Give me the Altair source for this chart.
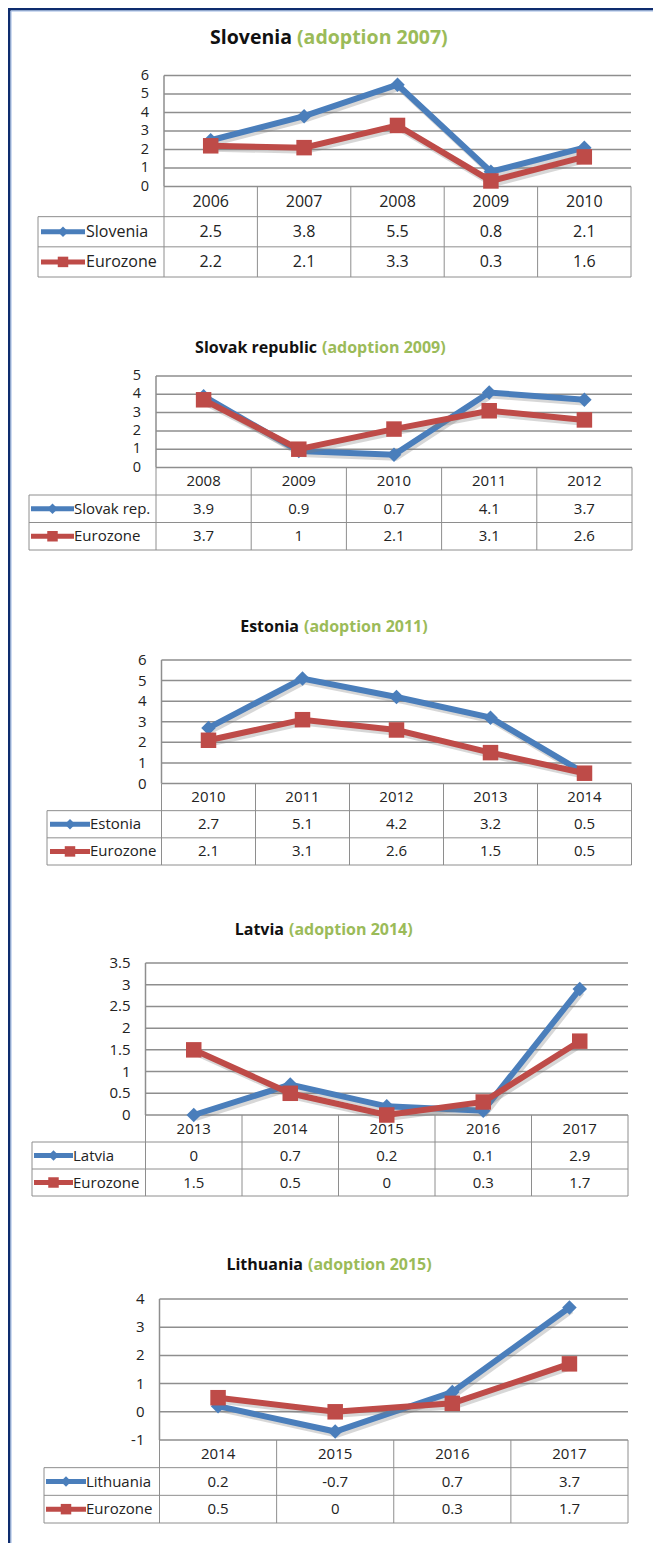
import altair as alt
import pandas as pd

# ---------------- data ----------------
slovenia_years = ["2006", "2007", "2008", "2009", "2010"]
slovenia_country = [2.5, 3.8, 5.5, 0.8, 2.1]
slovenia_euro = [2.2, 2.1, 3.3, 0.3, 1.6]
slovenia_ticks = [0, 1, 2, 3, 4, 5, 6]

slovak_years = ["2008", "2009", "2010", "2011", "2012"]
slovak_country = [3.9, 0.9, 0.7, 4.1, 3.7]
slovak_euro = [3.7, 1, 2.1, 3.1, 2.6]
slovak_ticks = [0, 1, 2, 3, 4, 5]

estonia_years = ["2010", "2011", "2012", "2013", "2014"]
estonia_country = [2.7, 5.1, 4.2, 3.2, 0.5]
estonia_euro = [2.1, 3.1, 2.6, 1.5, 0.5]
estonia_ticks = [0, 1, 2, 3, 4, 5, 6]

latvia_years = ["2013", "2014", "2015", "2016", "2017"]
latvia_country = [0, 0.7, 0.2, 0.1, 2.9]
latvia_euro = [1.5, 0.5, 0, 0.3, 1.7]
latvia_ticks = [0, 0.5, 1, 1.5, 2, 2.5, 3, 3.5]

lithuania_years = ["2014", "2015", "2016", "2017"]
lithuania_country = [0.2, -0.7, 0.7, 3.7]
lithuania_euro = [0.5, 0, 0.3, 1.7]
lithuania_ticks = [-1, 0, 1, 2, 3, 4]

titles = ["Slovenia", "Slovak republic", "Estonia", "Latvia", "Lithuania"]
adoptions = ["(adoption 2007)", "(adoption 2009)", "(adoption 2011)",
             "(adoption 2014)", "(adoption 2015)"]
row_labels = ["Slovenia", "Slovak rep.", "Estonia", "Latvia", "Lithuania"]
euro_label = "Eurozone"

# ---------------- style / layout ----------------
W = 645
H = 1535
FONT = "Open Sans"
BLUE = "#4A7EBB"
RED = "#BE4B48"
GREEN = "#9BBB59"
GRID = "#8E8E8E"
TXT = "#222222"
NAVY = "#0E2C6E"

layouts = [
    dict(off=0, ty=30, anchor=284, tsize=19.5, left=156, right=623, top=67.5, ybot=178.5,
         rbot=269, tleft=30, lx0=33, lx1=77, tx=78, fs=16, tfs=14.5),
    dict(off=310, ty=30, anchor=309, tsize=16, left=148, right=624, top=58, ybot=149.5,
         rbot=232, tleft=21, lx0=23, lx1=66, tx=66, fs=15, tfs=14.5),
    dict(off=592, ty=27, anchor=291, tsize=16, left=153.5, right=623.5, top=60, ybot=183.5,
         rbot=265, tleft=39, lx0=42, lx1=82, tx=82, fs=15, tfs=15),
    dict(off=892, ty=30, anchor=276, tsize=16, left=137.5, right=620, top=63, ybot=215,
         rbot=296, tleft=24, lx0=26, lx1=65, tx=65, fs=15, tfs=15),
    dict(off=1222, ty=35, anchor=295, tsize=16, left=151.5, right=620, top=69, ybot=210,
         rbot=293, tleft=36, lx0=38, lx1=78, tx=78, fs=15, tfs=15),
]


def fmt(v):
    return f"{v:g}"


def one(**kw):
    return pd.DataFrame({k: [v] for k, v in kw.items()})


layers = []

# page frame
fr = one(a=0)
layers.append(alt.Chart(fr).mark_rule(color=NAVY, strokeWidth=3).encode(
    x=alt.value(1), y=alt.value(0), y2=alt.value(H)))
layers.append(alt.Chart(fr).mark_rule(color=NAVY, strokeWidth=3).encode(
    x=alt.value(0), x2=alt.value(W), y=alt.value(1)))
layers.append(alt.Chart(fr).mark_rule(color="#9DB8E3", strokeWidth=1).encode(
    x=alt.value(3), y=alt.value(3), y2=alt.value(H)))
layers.append(alt.Chart(fr).mark_rule(color="#9DB8E3", strokeWidth=1).encode(
    x=alt.value(3), x2=alt.value(W), y=alt.value(3)))


def panel(idx, years, country, euro, ticks):
    L = layouts[idx]
    o = L["off"]
    n = len(years)
    xs = alt.Scale(domain=[0, n], range=[L["left"], L["right"]])
    ys = alt.Scale(domain=[min(ticks), max(ticks)], range=[o + L["ybot"], o + L["top"]])
    rs = alt.Scale(domain=[0, 3], range=[o + L["ybot"], o + L["rbot"]])
    out = []

    # title
    out.append(alt.Chart(one(t=titles[idx])).mark_text(
        font=FONT, fontSize=L["tsize"], fontWeight="bold", color="#111111",
        align="right", baseline="middle").encode(
        text="t:N", x=alt.value(L["anchor"]), y=alt.value(o + L["ty"])))
    out.append(alt.Chart(one(t=adoptions[idx])).mark_text(
        font=FONT, fontSize=L["tsize"], fontWeight="bold", color=GREEN,
        align="left", baseline="middle").encode(
        text="t:N", x=alt.value(L["anchor"] + 5), y=alt.value(o + L["ty"])))

    # gridlines + tick labels
    tdf = pd.DataFrame({"t": ticks, "lab": [fmt(t) for t in ticks]})
    out.append(alt.Chart(tdf).mark_rule(color=GRID, strokeWidth=1.5).encode(
        y=alt.Y("t:Q", scale=ys, axis=None),
        x=alt.value(L["left"]), x2=alt.value(L["right"])))
    out.append(alt.Chart(tdf).mark_text(
        font=FONT, fontSize=L["tfs"], color=TXT, align="right", baseline="middle").encode(
        y=alt.Y("t:Q", scale=ys, axis=None), text="lab:N",
        x=alt.value(L["left"] - 15)))
    # plot left border
    out.append(alt.Chart(one(lo=min(ticks), hi=max(ticks))).mark_rule(
        color=GRID, strokeWidth=1.5).encode(
        x=alt.value(L["left"]),
        y=alt.Y("lo:Q", scale=ys, axis=None), y2="hi:Q"))

    # table borders
    vb = pd.DataFrame({"b": list(range(n + 1)), "r0": 0, "r1": 3})
    out.append(alt.Chart(vb).mark_rule(color=GRID, strokeWidth=1).encode(
        x=alt.X("b:Q", scale=xs, axis=None),
        y=alt.Y("r0:Q", scale=rs, axis=None), y2="r1:Q"))
    out.append(alt.Chart(one(r0=1, r1=3)).mark_rule(color=GRID, strokeWidth=1).encode(
        x=alt.value(L["tleft"]),
        y=alt.Y("r0:Q", scale=rs, axis=None), y2="r1:Q"))
    hb = pd.DataFrame({"r": [1, 2, 3]})
    out.append(alt.Chart(hb).mark_rule(color=GRID, strokeWidth=1).encode(
        y=alt.Y("r:Q", scale=rs, axis=None),
        x=alt.value(L["tleft"]), x2=alt.value(L["right"])))

    # table cell texts
    pos = [i + 0.5 for i in range(n)]
    cells = pd.DataFrame({
        "pos": pos * 3,
        "row": [0.5] * n + [1.5] * n + [2.5] * n,
        "txt": list(years) + [fmt(v) for v in country] + [fmt(v) for v in euro],
    })
    out.append(alt.Chart(cells).mark_text(
        font=FONT, fontSize=L["fs"], color=TXT, baseline="middle").encode(
        x=alt.X("pos:Q", scale=xs, axis=None),
        y=alt.Y("row:Q", scale=rs, axis=None), text="txt:N"))

    # series lines + markers, and legend keys
    series = [
        (country, BLUE, "diamond", 210, 110, row_labels[idx], 1.5),
        (euro, RED, "square", 240, 110, euro_label, 2.5),
    ]
    for vals, color, shape, size, lsize, lab, row in series:
        df = pd.DataFrame({"pos": pos, "v": vals})
        base = alt.Chart(df).encode(
            x=alt.X("pos:Q", scale=xs, axis=None),
            y=alt.Y("v:Q", scale=ys, axis=None))
        out.append(base.mark_line(color="#7A7A7A", strokeWidth=6, opacity=0.3,
                                  xOffset=2, yOffset=3))
        out.append(base.mark_line(color=color, strokeWidth=6))
        out.append(base.mark_point(shape=shape, filled=True, size=size,
                                   color=color, opacity=1))
        ld = one(row=row, lab=lab)
        out.append(alt.Chart(ld).mark_rule(color=color, strokeWidth=5).encode(
            y=alt.Y("row:Q", scale=rs, axis=None),
            x=alt.value(L["lx0"]), x2=alt.value(L["lx1"])))
        out.append(alt.Chart(ld).mark_point(shape=shape, filled=True, size=lsize,
                                            color=color, opacity=1).encode(
            y=alt.Y("row:Q", scale=rs, axis=None),
            x=alt.value((L["lx0"] + L["lx1"]) / 2)))
        out.append(alt.Chart(ld).mark_text(
            font=FONT, fontSize=L["fs"], color=TXT, align="left", baseline="middle").encode(
            y=alt.Y("row:Q", scale=rs, axis=None), text="lab:N",
            x=alt.value(L["tx"])))
    return out


layers += panel(0, slovenia_years, slovenia_country, slovenia_euro, slovenia_ticks)
layers += panel(1, slovak_years, slovak_country, slovak_euro, slovak_ticks)
layers += panel(2, estonia_years, estonia_country, estonia_euro, estonia_ticks)
layers += panel(3, latvia_years, latvia_country, latvia_euro, latvia_ticks)
layers += panel(4, lithuania_years, lithuania_country, lithuania_euro, lithuania_ticks)

chart = alt.layer(*layers).resolve_scale(x="independent", y="independent").properties(
    width=W, height=H, padding=0, background="white",
    autosize=alt.AutoSizeParams(type="none"),
).configure_view(stroke=None)

chart.save("out.html", embed_options={"renderer": "svg", "actions": False})
